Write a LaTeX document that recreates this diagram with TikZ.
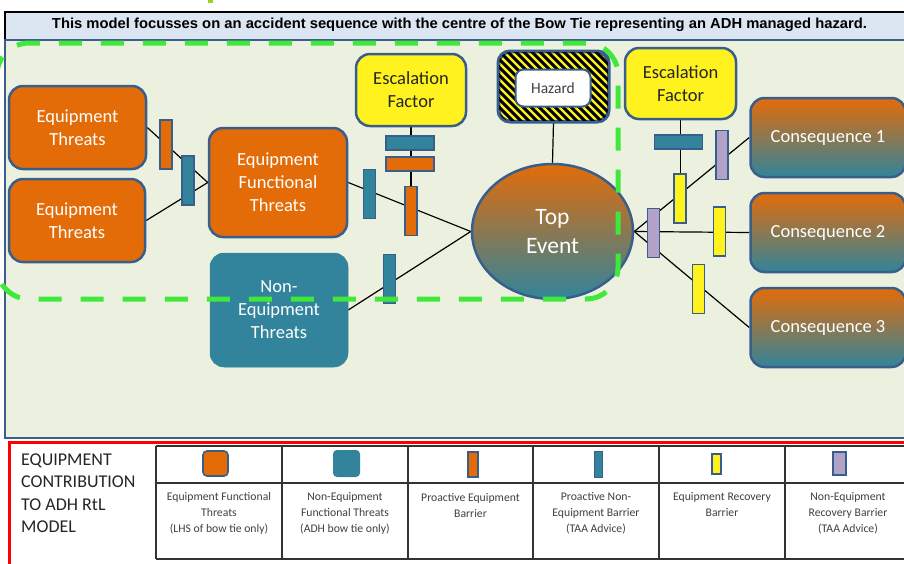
\documentclass[tikz,border=0pt]{standalone}
\usepackage{fontspec}
\setmainfont{Carlito}
\newfontfamily\titlefont{Liberation Sans}
\usetikzlibrary{shapes.geometric}
\pgfdeclarelayer{panel}
\pgfdeclarelayer{lines}
\pgfdeclarelayer{top}
\pgfsetlayers{panel,lines,main,top}
\definecolor{borange}{HTML}{E36C09}
\definecolor{bteal}{HTML}{31849B}
\definecolor{bblue}{HTML}{3A5E8C}
\definecolor{byellow}{HTML}{FFF21F}
\definecolor{bpurple}{HTML}{B3A2C7}
\definecolor{panelbg}{HTML}{EBF1DE}
\definecolor{titlebg}{HTML}{DCE6F2}
\definecolor{dgreen}{HTML}{3FE83A}
\definecolor{legline}{HTML}{333333}
\begin{document}
\begin{tikzpicture}[x=1pt,y=-1pt,
  box/.style={draw=bblue, line width=2.5pt, rounded corners=14pt, align=center, inner sep=0pt, text=white, font=\fontsize{18.5}{23}\selectfont},
  escbox/.style={box, fill=byellow, text=black!85},
  vbar/.style={draw=bblue, line width=1.8pt, minimum width=12pt, minimum height=49pt, inner sep=0pt},
  hbar/.style={draw=bblue, line width=1.8pt, minimum width=48pt, minimum height=14pt, inner sep=0pt},
  conn/.style={draw=black, line width=1.2pt},
  legtext/.style={align=center, text=black!75, font=\fontsize{11.7}{16}\selectfont},
  legicon/.style={draw=bblue, line width=1.6pt, inner sep=0pt},
]
\useasboundingbox (0,0) rectangle (904,563);

% ---------- background panels ----------
\begin{pgfonlayer}{panel}
\fill[white] (0,0) rectangle (904,563);
\fill[yellow!60!green] (208,0) rectangle (213,3);
\draw[black, line width=2pt, fill=titlebg] (5,12) rectangle (915,40);
\draw[bblue, line width=2pt, fill=panelbg] (5,40) rectangle (915,438);
\draw[red, line width=3pt, fill=white] (9,442) rectangle (915,590);
% legend table
\draw[legline, line width=1.4pt] (156,446) -- (915,446) (156,483) -- (915,483) (156,559) -- (915,559);
\foreach \xx in {156,282,408,533,659,785}
  \draw[legline, line width=1.4pt] (\xx,446) -- (\xx,559);
\end{pgfonlayer}

% ---------- title ----------
\node[inner sep=0pt] (title) at (459.5,25) {\resizebox{815pt}{\height}{\titlefont\bfseries\fontsize{14.5}{16}\selectfont This model focusses on an accident sequence with the centre of the Bow Tie representing an ADH managed hazard.}};

% ---------- main boxes ----------
\node[box, fill=borange, minimum width=137pt, minimum height=83pt] (et1) at (77.5,127.5) {Equipment\\Threats};
\node[box, fill=borange, minimum width=136pt, minimum height=83pt] (et2) at (77,220.5) {Equipment\\Threats};
\node[box, fill=borange, minimum width=138pt, minimum height=109pt] (eft) at (278,182.5) {Equipment\\Functional\\Threats};
\node[box, draw=bteal, line width=0.5pt, fill=bteal, minimum width=138pt, minimum height=114pt] (net) at (279,310) {Non-\\Equipment\\Threats};
\node[escbox, minimum width=110pt, minimum height=72pt] (ef1) at (411,90) {Escalation\\Factor};
\node[escbox, minimum width=111pt, minimum height=71pt] (ef2) at (680.5,83.5) {Escalation\\Factor};

% hazard
\node[draw=bblue, line width=2.5pt, rounded corners=12pt, fill=byellow, minimum width=109pt, minimum height=69pt, inner sep=0pt] (hz) at (553.5,86.5) {};
\begin{scope}
\clip[rounded corners=12pt] (hz.south west) rectangle (hz.north east);
\foreach \t in {400,408,...,616} \draw[line width=2.9pt] (\t,40) -- ({\t+90},130);
\end{scope}
\draw[bblue, line width=2.5pt, rounded corners=12pt] (hz.south west) rectangle (hz.north east);
\node[draw=bblue, line width=2pt, fill=white, rounded corners=8pt, minimum width=75pt, minimum height=37pt, inner sep=0pt, text=black!75, font=\fontsize{15.5}{18}\selectfont] (hzin) at (553,88) {Hazard};

% top event
\node[ellipse, draw=bblue, line width=2.5pt, top color=borange, bottom color=bteal, minimum width=161pt, minimum height=135pt, inner sep=0pt, text=white, align=center, font=\fontsize{23.5}{29}\selectfont] (te) at (552.5,231.5) {Top\\Event};

% consequences
\node[box, top color=borange, bottom color=bteal, minimum width=155pt, minimum height=79pt] (c1) at (828,137.5) {Consequence 1};
\node[box, top color=borange, bottom color=bteal, minimum width=155pt, minimum height=79pt] (c2) at (828,232.5) {Consequence 2};
\node[box, top color=borange, bottom color=bteal, minimum width=155pt, minimum height=79pt] (c3) at (828,327.5) {Consequence 3};

% ---------- barriers ----------
\node[vbar, fill=borange] (b1) at (166,144.5) {};
\node[vbar, fill=bteal] (b2) at (188,180.5) {};
\node[vbar, fill=bteal] (b3) at (369.5,194) {};
\node[hbar, fill=bteal] (e1) at (410,143) {};
\node[hbar, fill=borange] (e2) at (410,164) {};
\node[vbar, fill=borange] (b4) at (411,211) {};
\node[vbar, fill=bteal] (b5) at (389.5,279) {};
\node[hbar, fill=bteal] (e3) at (678.5,142) {};
\node[vbar, fill=byellow] (r1) at (680,198.5) {};
\node[vbar, fill=bpurple] (p1) at (653.5,233) {};
\node[vbar, fill=bpurple] (p2) at (722,155) {};
\node[vbar, fill=byellow] (r2) at (719.5,231.5) {};
\node[vbar, fill=byellow] (r3) at (698.5,289) {};

% ---------- connectors ----------
\begin{pgfonlayer}{lines}
\draw[conn] (et1.east) -- (eft.west);
\draw[conn] (et2.east) -- (eft.west);
\draw[conn] (eft.east) -- (te.west);
\draw[conn] (net.east) -- (te.west);
\draw[conn] (ef1.south) -- (b4.north);
\draw[conn] (hz.south) -- (te.north);
\draw[conn] (ef2.south) -- (ef2.south |- r1.north);
\draw[conn] (te.east) -- (c1.west);
\draw[conn] (te.east) -- (c2.west);
\draw[conn] (te.east) -- (c3.west);
\end{pgfonlayer}

% ---------- green dashed outline ----------
\begin{pgfonlayer}{top}
\draw[dgreen, line width=5pt, dash pattern=on 23pt off 19pt, rounded corners=32pt] (-3,43) rectangle (618,299);
\end{pgfonlayer}

% ---------- legend ----------
\node[anchor=west, align=left, text=black!85, font=\fontsize{18}{22.5}\selectfont, inner sep=0pt] (legtitle) at (21,493) {EQUIPMENT\\CONTRIBUTION\\TO ADH RtL\\MODEL};

\node[legicon, fill=borange, rounded corners=4pt, minimum size=25pt] (l1) at (215.5,463.5) {};
\node[fill=bteal, rounded corners=4pt, minimum size=27pt, inner sep=0pt] (l2) at (346.5,463.5) {};
\node[legicon, fill=borange, minimum width=10.5pt, minimum height=25.5pt] (l3) at (473,464.5) {};
\node[legicon, line width=1.4pt, fill=bteal, minimum width=7.5pt, minimum height=25.5pt] (l4) at (598.5,464.5) {};
\node[legicon, fill=byellow, minimum width=9.5pt, minimum height=20.5pt] (l5) at (716.5,464) {};
\node[legicon, fill=bpurple, minimum width=13.5pt, minimum height=23.5pt] (l6) at (839.5,463.5) {};

\node[legtext] (t1) at (219,513) {Equipment Functional\\Threats\\(LHS of bow tie only)};
\node[legtext] (t2) at (345,513) {Non-Equipment\\Functional Threats\\(ADH bow tie only)};
\node[legtext] (t3) at (470.5,505) {Proactive Equipment\\Barrier};
\node[legtext] (t4) at (596,513) {Proactive Non-\\Equipment Barrier\\(TAA Advice)};
\node[legtext] (t5) at (722,505) {Equipment Recovery\\Barrier};
\node[legtext] (t6) at (848,513) {Non-Equipment\\Recovery Barrier\\(TAA Advice)};
\end{tikzpicture}
\end{document}
